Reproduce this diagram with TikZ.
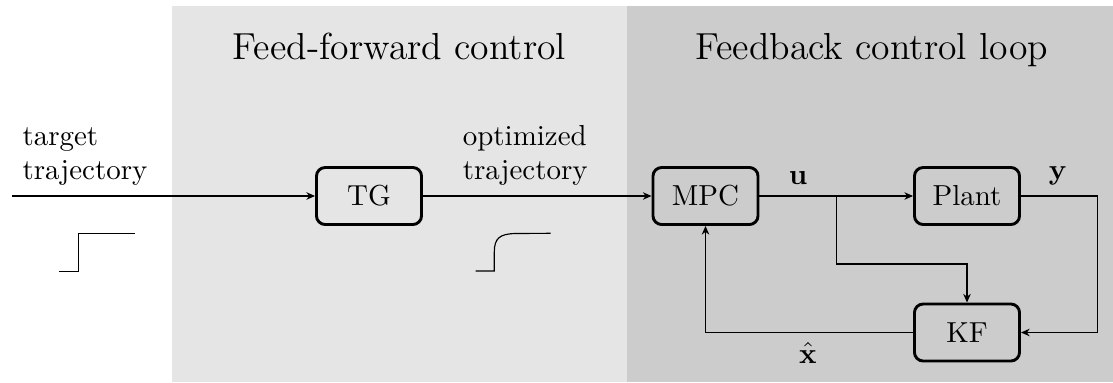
\documentclass[tikz,border=0pt]{standalone}
\usetikzlibrary{arrows.meta}
\begin{document}
\begin{tikzpicture}[x=0.3455pt,y=-0.3455pt,
  blk/.style={draw,line width=1pt,rounded corners=3pt,minimum width=36.3pt,minimum height=19.7pt,inner sep=0pt},
  sig/.style={line width=0.4pt,-{Stealth[length=3pt,width=2.6pt]}},
  wire/.style={line width=0.4pt},
  lbl/.style={inner sep=0pt},
  ttl/.style={inner sep=0pt,anchor=base,font=\fontsize{13}{15.6}\selectfont}]
\useasboundingbox (0,0) rectangle (1113,382);
\fill[gray!20] (172,6) rectangle (627,382);
\fill[gray!40] (627,6) rectangle (1113,382);
\node[ttl] (t1) at (399.5,59) {Feed-forward control};
\node[ttl] (t2) at (871.7,59) {Feedback control loop};
\node[blk] (tg) at (369,196) {TG};
\node[blk] (mpc) at (705.5,196) {MPC};
\node[blk] (plant) at (967,196) {Plant};
\node[blk] (kf) at (967,332.5) {KF};
\coordinate (in) at (12,196);
\coordinate (br) at (836.7,196);
\coordinate (yc) at (1097.7,196);
\draw[sig] (in) -- (tg);
\draw[sig] (tg) -- (mpc);
\draw[sig] (mpc) -- (plant);
\draw[sig] (br) -- (br |- 0,264) -| (kf);
\draw[sig] (plant.east) -- (yc) |- (kf);
\draw[sig] (kf) -| (mpc);
\node[lbl,anchor=south west,align=left] (tt) at (22,186.5) {target\\trajectory};
\node[lbl,anchor=south west,align=left] (ot) at (462.3,186.5) {optimized\\trajectory};
\node[lbl,anchor=base] (u) at (798,184) {$\mathbf{u}$};
\node[lbl,anchor=base] (y) at (1058,179.5) {$\mathbf{y}$};
\node[lbl,anchor=base] (xh) at (808,363) {$\hat{\mathbf{x}}$};
\draw[wire] (59.3,271.3) -- (78.7,271.3) -- (78.7,233.3) -- (134.7,233.3);
\draw[wire] (475.5,271) -- (494.3,271) -- (494.3,252) .. controls (494.3,238) and (500,234) .. (515,233.5) -- (550.7,233.3);
\end{tikzpicture}
\end{document}
